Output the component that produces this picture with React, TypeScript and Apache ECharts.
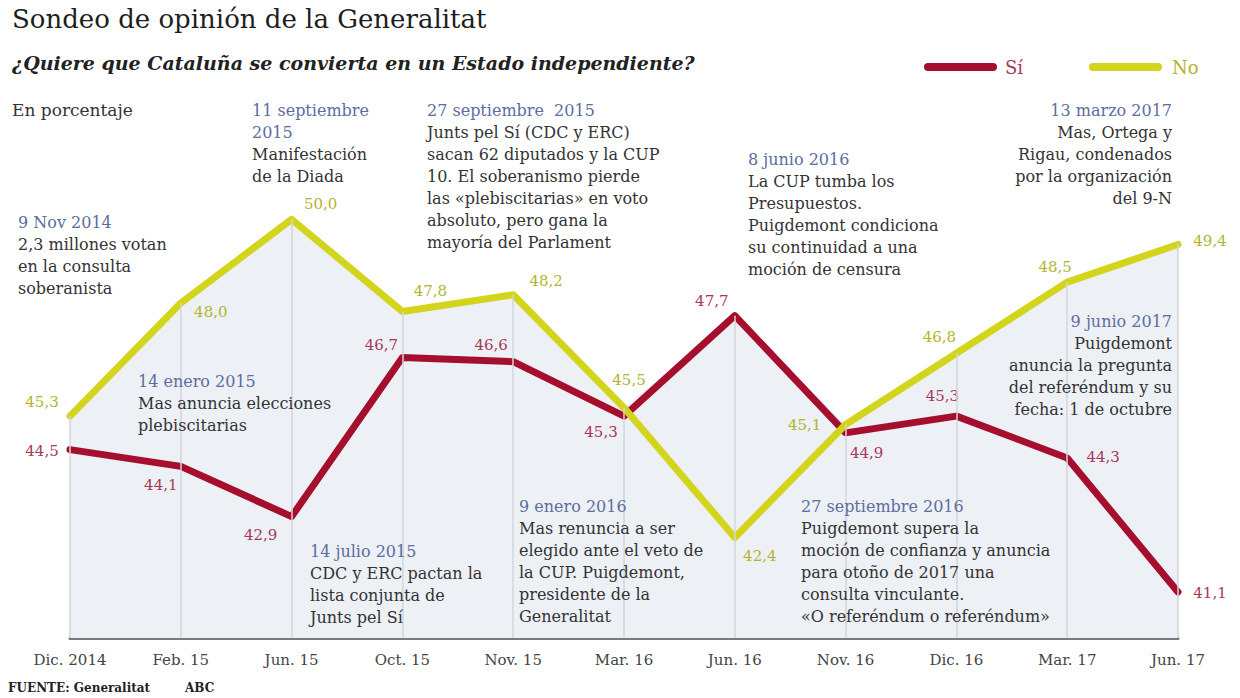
import React, { useEffect, useRef } from "react";
import * as echarts from "echarts";

const categories = ["Dic. 2014", "Feb. 15", "Jun. 15", "Oct. 15", "Nov. 15", "Mar. 16", "Jun. 16", "Nov. 16", "Dic. 16", "Mar. 17", "Jun. 17"];
const si = [44.5, 44.1, 42.9, 46.7, 46.6, 45.3, 47.7, 44.9, 45.3, 44.3, 41.1];
const no = [45.3, 48.0, 50.0, 47.8, 48.2, 45.5, 42.4, 45.1, 46.8, 48.5, 49.4];

// label offsets (px) from each point, styling only
const siLabelOffsets = [[-28, 1], [-20, 19], [-31, 18], [-21, -12], [-22, -17], [-23, 16], [-23, -15], [21, 20], [-14, -20], [36, -1], [32, 1]];
const noLabelOffsets = [[-28, -14], [30, 9], [29, -15], [28, -20], [33, -14], [5, -28], [25, 18], [-41, 1], [-17, -16], [-12, -15], [32, -3]];

type Ann = { x: number; y: number; date: string; body: string[]; align: "left" | "right" };
const annotations: Ann[] = [
  { x: 252, y: 110, date: "11 septiembre\n2015", body: ["Manifestación", "de la Diada"], align: "left" },
  { x: 427, y: 110, date: "27 septiembre  2015", body: ["Junts pel Sí (CDC y ERC)", "sacan 62 diputados y la CUP", "10. El soberanismo pierde", "las «plebiscitarias» en voto", "absoluto, pero gana la", "mayoría del Parlament"], align: "left" },
  { x: 748, y: 159, date: "8 junio 2016", body: ["La CUP tumba los", "Presupuestos.", "Puigdemont condiciona", "su continuidad a una", "moción de censura"], align: "left" },
  { x: 1172, y: 110, date: "13 marzo 2017", body: ["Mas, Ortega y", "Rigau, condenados", "por la organización", "del 9-N"], align: "right" },
  { x: 18, y: 222, date: "9 Nov 2014", body: ["2,3 millones votan", "en la consulta", "soberanista"], align: "left" },
  { x: 138, y: 381, date: "14 enero 2015", body: ["Mas anuncia elecciones", "plebiscitarias"], align: "left" },
  { x: 310, y: 551, date: "14 julio 2015", body: ["CDC y ERC pactan la", "lista conjunta de", "Junts pel Sí"], align: "left" },
  { x: 519, y: 506, date: "9 enero 2016", body: ["Mas renuncia a ser", "elegido ante el veto de", "la CUP. Puigdemont,", "presidente de la", "Generalitat"], align: "left" },
  { x: 801, y: 506, date: "27 septiembre 2016", body: ["Puigdemont supera la", "moción de confianza y anuncia", "para otoño de 2017 una", "consulta vinculante.", "«O referéndum o referéndum»"], align: "left" },
  { x: 1172, y: 321, date: "9 junio 2017", body: ["Puigdemont", "anuncia la pregunta", "del referéndum y su", "fecha: 1 de octubre"], align: "right" },
];

const FONT = "DejaVu Serif";
const RED = "#a50f2d";
const YEL = "#d3d41c";
const RED_LBL = "#a63a55";
const YEL_LBL = "#b4b42a";
const BLUE = "#5d6d9e";
const DARK = "#333333";
const LH = 22;

export default function App() {
  const ref = useRef<HTMLDivElement>(null);
  useEffect(() => {
    document.body.style.margin = "0";
    const chart = echarts.init(ref.current!, null, { renderer: "svg" });
    const env = si.map((v, i) => Math.max(v, no[i]));

    const graphics: any[] = [
      { type: "text", x: 12, y: 19, style: { text: "Sondeo de opinión de la Generalitat", fill: "#1e1e1e", font: `normal 26px "${FONT}"`, textVerticalAlign: "middle" } },
      { type: "text", x: 12, y: 63, style: { text: "¿Quiere que Cataluña se convierta en un Estado independiente?", fill: "#222", font: `italic bold 19px "${FONT}"`, textVerticalAlign: "middle" } },
      { type: "text", x: 12, y: 110, style: { text: "En porcentaje", fill: DARK, font: `normal 17px "${FONT}"`, textVerticalAlign: "middle" } },
      { type: "line", shape: { x1: 928, y1: 67, x2: 993, y2: 67 }, style: { stroke: RED, lineWidth: 8, lineCap: "round" } },
      { type: "text", x: 1005, y: 67, style: { text: "Sí", fill: RED_LBL, font: `normal 18px "${FONT}"`, textVerticalAlign: "middle" } },
      { type: "line", shape: { x1: 1093, y1: 67, x2: 1158, y2: 67 }, style: { stroke: YEL, lineWidth: 8, lineCap: "round" } },
      { type: "text", x: 1172, y: 67, style: { text: "No", fill: YEL_LBL, font: `normal 18px "${FONT}"`, textVerticalAlign: "middle" } },
      { type: "text", x: 8, y: 688, style: { text: "FUENTE: Generalitat", fill: "#222", font: `bold 12px "${FONT}"`, textVerticalAlign: "middle" } },
      { type: "text", x: 185, y: 688, style: { text: "ABC", fill: "#222", font: `bold 12px "${FONT}"`, textVerticalAlign: "middle" } },
    ];
    annotations.forEach((a) => {
      const dateLines = a.date.split("\n").length;
      graphics.push({
        type: "text", x: a.x, y: a.y - LH / 2,
        style: { text: a.date, fill: BLUE, font: `normal 16px "${FONT}"`, lineHeight: LH, textAlign: a.align, textVerticalAlign: "top" },
      });
      graphics.push({
        type: "text", x: a.x, y: a.y - LH / 2 + LH * dateLines,
        style: { text: a.body.join("\n"), fill: DARK, font: `normal 16px "${FONT}"`, lineHeight: LH, textAlign: a.align, textVerticalAlign: "top" },
      });
    });
    graphics.forEach((g) => { g.z = 100; });

    const mkData = (vals: number[], offs: number[][]) =>
      vals.map((v, i) => ({ value: v, label: { offset: offs[i] } }));
    const fmt = (p: any) => Number(p.value).toFixed(1).replace(".", ",");

    chart.setOption({
      animation: false,
      grid: { left: 70, right: 62, top: 10, bottom: 60 },
      xAxis: {
        type: "category",
        data: categories,
        boundaryGap: false,
        axisLine: { lineStyle: { color: "#7a7a7a", width: 3 } },
        axisTick: { show: false },
        axisLabel: { color: "#444", fontSize: 15, fontWeight: "normal", fontFamily: FONT, margin: 14 },
        splitLine: { show: false },
      },
      yAxis: { type: "value", min: 40, max: 55, show: false },
      graphic: graphics,
      series: [
        {
          type: "line",
          data: env,
          symbol: "none",
          lineStyle: { width: 0, opacity: 0 },
          areaStyle: { color: "#edf0f5", opacity: 1 },
          silent: true,
          z: 1,
          markLine: {
            silent: true,
            symbol: "none",
            label: { show: false },
            lineStyle: { color: "#d3d6dc", width: 1.5, type: "solid" },
            data: env.map((v, i) => [{ coord: [categories[i], 40] }, { coord: [categories[i], v] }]),
          },
        },
        {
          type: "line",
          name: "Sí",
          data: mkData(si, siLabelOffsets),
          symbol: "circle",
          symbolSize: 1,
          showAllSymbol: true,
          itemStyle: { color: RED },
          lineStyle: { color: RED, width: 7, cap: "round", join: "round" },
          label: { show: true, position: "inside", align: "center", verticalAlign: "middle", color: RED_LBL, fontSize: 15, fontFamily: FONT, formatter: fmt },
          z: 3,
        },
        {
          type: "line",
          name: "No",
          data: mkData(no, noLabelOffsets),
          symbol: "circle",
          symbolSize: 1,
          showAllSymbol: true,
          itemStyle: { color: YEL },
          lineStyle: { color: YEL, width: 7, cap: "round", join: "round" },
          label: { show: true, position: "inside", align: "center", verticalAlign: "middle", color: YEL_LBL, fontSize: 15, fontFamily: FONT, formatter: fmt },
          z: 4,
        },
      ],
    });
    return () => chart.dispose();
  }, []);
  return <div ref={ref} style={{ width: 1240, height: 698 }} />;
}
